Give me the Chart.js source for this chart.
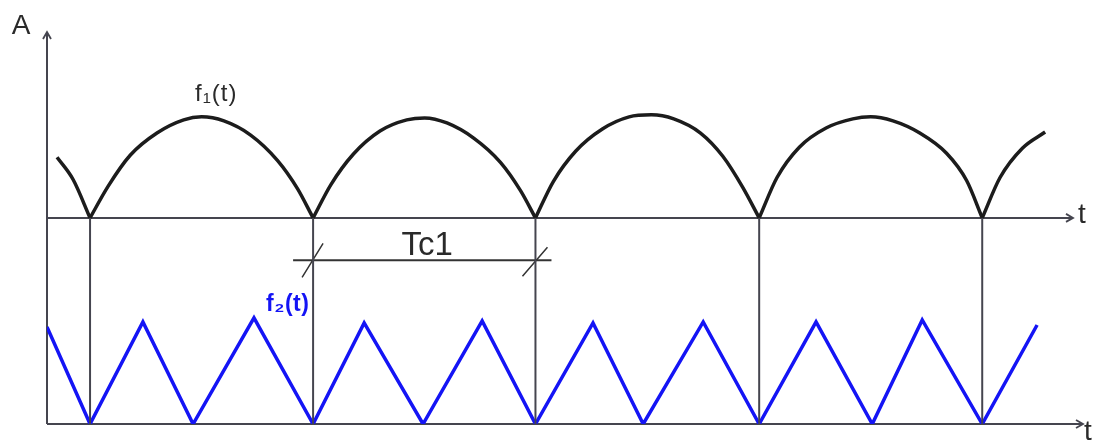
<!DOCTYPE html>
<html>
<head>
<meta charset="utf-8">
<script src="https://cdn.jsdelivr.net/npm/chart.js@4"></script>
<style>
  body { margin: 0; background: #fff; }
  canvas { display: block; }
</style>
</head>
<body>
<canvas id="grafica" width="1104" height="443"></canvas>
<script>
// f1(t): rectified wave, time in tenths of Tc1, amplitude relative to peak
const f1T = [0.45, 1.17, 1.93,
             2.73, 3.73, 4.93, 6.13, 6.93, 7.93, 9.13, 10.33, 11.23, 11.93,
             12.73, 13.73, 14.93, 16.13, 16.93, 17.93, 19.13, 20.33, 21.23, 21.9,
             22.7, 23.7, 24.9, 26.1, 27.1, 28.1, 29.3, 30.3, 31.2, 31.93,
             32.73, 33.73, 34.93, 36.13, 36.93, 37.93, 39.13, 40.33, 41.23, 41.93,
             42.73, 43.73, 44.75];
const f1A = [0.60, 0.38, 0,
             0.31, 0.62, 0.84, 0.97, 1.00, 0.96, 0.82, 0.57, 0.29, 0,
             0.33, 0.63, 0.86, 0.97, 0.99, 0.94, 0.79, 0.55, 0.27, 0,
             0.36, 0.66, 0.88, 1.00, 1.02, 0.98, 0.84, 0.61, 0.30, 0,
             0.40, 0.70, 0.89, 0.98, 1.00, 0.96, 0.84, 0.64, 0.37, 0,
             0.40, 0.69, 0.85];

// f2(t): triangle wave
const f2T = [0, 1.93, 4.30, 6.55, 9.28, 11.93, 14.22, 16.86, 19.51, 21.9, 24.48, 26.73,
             29.42, 31.93, 34.48, 37.0, 39.24, 41.93, 44.39];
const f2A = [0.96, 0, 1.01, 0, 1.05, 0, 1.00, 0, 1.02, 0, 1.00, 0,
             1.01, 0, 1.01, 0, 1.03, 0, 0.98];

// instants where f1 touches zero
const ceros = [1.93, 11.93, 21.9, 31.93, 41.93];

const tMax = 46;
const gap = 2.04;      // distance between the two baselines
const topA = 1.84;     // top of the A axis above upper baseline

const negro = '#1c1c1c';
const azul = '#1414f5';
const gris = '#45454f';

// split f1 in arcs so the cusps stay sharp
const arcos = [];
let actual = [];
f1T.forEach((t, i) => {
    actual.push({ x: t, y: f1A[i] });
    if (f1A[i] === 0 && actual.length > 1) {
        arcos.push(actual);
        actual = [{ x: t, y: 0 }];
    }
});
if (actual.length > 1) arcos.push(actual);

const datasets = [];

ceros.forEach(t => {
    datasets.push({
        data: [{ x: t, y: 0 }, { x: t, y: gap }],
        yAxisID: 'y2',
        borderColor: gris,
        borderWidth: 2,
        pointRadius: 0,
        tension: 0
    });
});

datasets.push({
    data: f2T.map((t, i) => ({ x: t, y: f2A[i] })),
    yAxisID: 'y2',
    borderColor: azul,
    borderWidth: 3.5,
    pointRadius: 0,
    tension: 0,
    borderJoinStyle: 'miter'
});

arcos.forEach(arco => {
    datasets.push({
        data: arco,
        yAxisID: 'y',
        borderColor: negro,
        borderWidth: 3.5,
        pointRadius: 0,
        cubicInterpolationMode: 'monotone'
    });
});

function flecha(ctx, x, y, dir) {
    ctx.beginPath();
    if (dir === 'right') {
        ctx.moveTo(x - 7, y - 4);
        ctx.lineTo(x, y);
        ctx.lineTo(x - 7, y + 4);
    } else {
        ctx.moveTo(x - 4, y + 7);
        ctx.lineTo(x, y);
        ctx.lineTo(x + 4, y + 7);
    }
    ctx.stroke();
}

const ejes = {
    id: 'ejes',
    beforeDatasetsDraw(chart) {
        const ctx = chart.ctx;
        const sx = chart.scales.x, sy = chart.scales.y, sy2 = chart.scales.y2;
        const x0 = sx.getPixelForValue(0);
        const xEnd = sx.getPixelForValue(tMax);
        const yUp = sy.getPixelForValue(0);
        const yLow = sy2.getPixelForValue(0);
        const yTop = sy.getPixelForValue(topA);
        ctx.save();
        ctx.strokeStyle = gris;
        ctx.lineWidth = 2;
        ctx.beginPath();
        ctx.moveTo(x0, yLow); ctx.lineTo(x0, yTop);
        ctx.moveTo(x0, yUp); ctx.lineTo(xEnd, yUp);
        ctx.moveTo(x0, yLow); ctx.lineTo(xEnd + 10, yLow);
        ctx.stroke();
        ctx.lineWidth = 1.8;
        flecha(ctx, x0, yTop, 'up');
        flecha(ctx, xEnd, yUp, 'right');
        flecha(ctx, xEnd + 10, yLow, 'right');

        // Tc1 dimension line
        const xa = sx.getPixelForValue(ceros[1]);
        const xb = sx.getPixelForValue(ceros[2]);
        const yd = sy2.getPixelForValue(1.62);
        ctx.strokeStyle = '#333';
        ctx.lineWidth = 2;
        ctx.beginPath();
        ctx.moveTo(xa - 20, yd); ctx.lineTo(xb + 16, yd);
        ctx.stroke();
        ctx.lineWidth = 1.5;
        ctx.beginPath();
        ctx.moveTo(xa - 11, yd + 17); ctx.lineTo(xa + 10, yd - 17);
        ctx.moveTo(xb - 13, yd + 16); ctx.lineTo(xb + 12, yd - 13);
        ctx.stroke();
        ctx.restore();
    },
    afterDatasetsDraw(chart) {
        const ctx = chart.ctx;
        const sx = chart.scales.x;
        ctx.save();
        ctx.textBaseline = 'alphabetic';
        ctx.fillStyle = '#2a2a2a';
        ctx.font = '28px "Liberation Sans", Arial, sans-serif';
        ctx.textAlign = 'center';
        ctx.fillText('A', 21, 34);
        ctx.textAlign = 'left';
        ctx.fillText('t', 1078, 223);
        ctx.fillText('t', 1084, 440);
        ctx.font = '24px "Liberation Sans", Arial, sans-serif';
        ctx.letterSpacing = '1px';
        ctx.fillText('f\u2081(t)', 195, 101);
        ctx.letterSpacing = '0px';
        ctx.font = '33px "Liberation Sans", Arial, sans-serif';
        ctx.textAlign = 'center';
        const xm = (sx.getPixelForValue(ceros[1]) + sx.getPixelForValue(ceros[2])) / 2;
        ctx.fillText('Tc1', xm + 3, 255);
        ctx.fillStyle = azul;
        ctx.font = 'bold 23px "Liberation Sans", Arial, sans-serif';
        ctx.textAlign = 'left';
        ctx.letterSpacing = '0.5px';
        ctx.fillText('f\u2082(t)', 266, 311);
        ctx.restore();
    }
};

const ctx = document.getElementById('grafica').getContext('2d');

new Chart(ctx, {
    type: 'line',
    data: { datasets: datasets },
    options: {
        responsive: false,
        animation: false,
        layout: { padding: { left: 47, right: 31, top: 32, bottom: 19 } },
        plugins: { legend: { display: false }, tooltip: { enabled: false } },
        elements: { line: { fill: false } },
        scales: {
            x: { type: 'linear', min: 0, max: tMax, display: false },
            y: { min: -gap, max: topA, display: false },
            y2: { min: 0, max: gap + topA, display: false }
        }
    },
    plugins: [ejes]
});
</script>
</body>
</html>
